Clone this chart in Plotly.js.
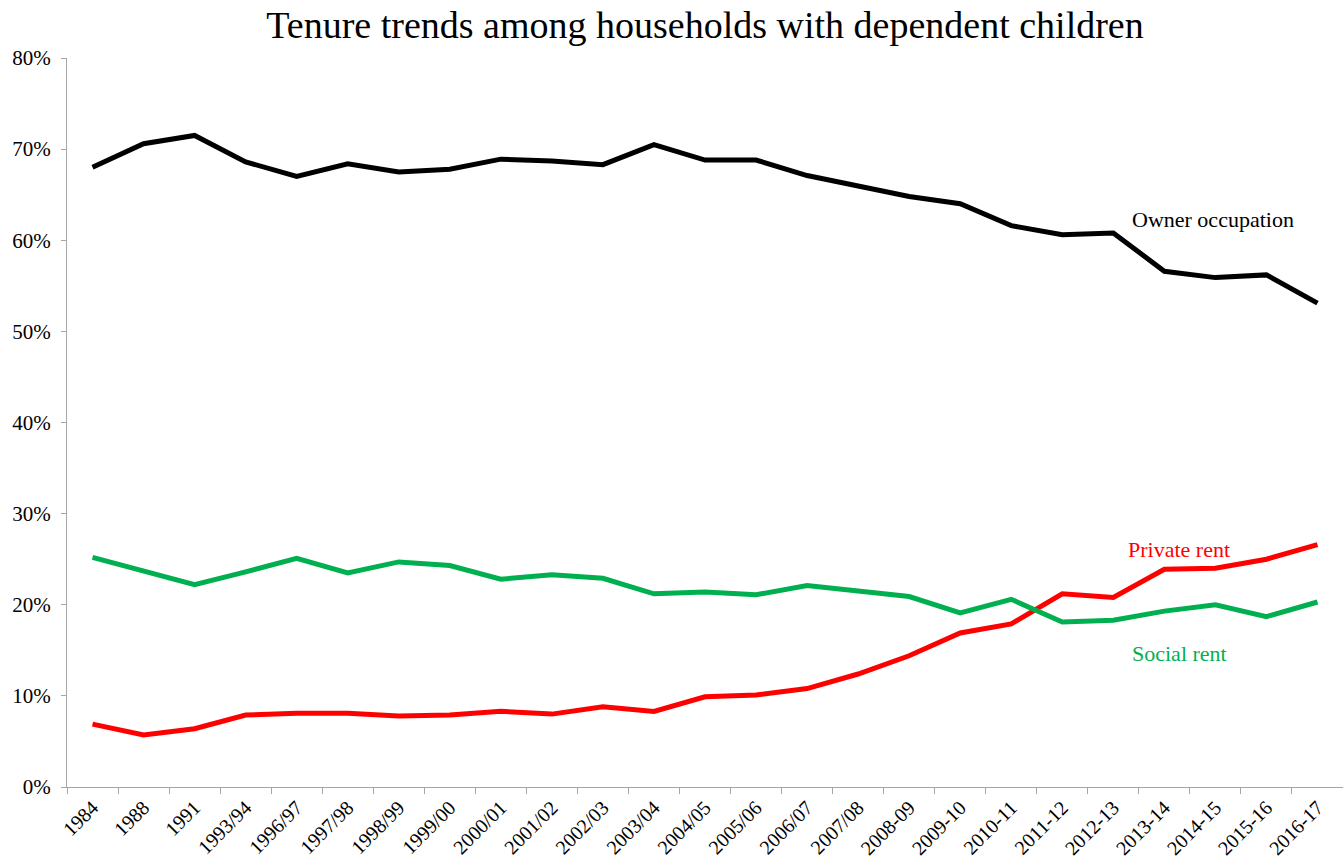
<!DOCTYPE html>
<html>
<head>
<meta charset="utf-8">
<script src="https://cdn.plot.ly/plotly-3.0.1.min.js"></script>
<style>html,body{margin:0;padding:0;background:#fff;}#chart{width:1343px;height:868px;}</style>
</head>
<body>
<div id="chart"></div>
<script>
const years = ["1984","1988","1991","1993/94","1996/97","1997/98","1998/99","1999/00","2000/01","2001/02","2002/03","2003/04","2004/05","2005/06","2006/07","2007/08","2008-09","2009-10","2010-11","2011-12","2012-13","2013-14","2014-15","2015-16","2016-17"];
const ownerOccupation = [68.0,70.6,71.5,68.6,67.0,68.4,67.5,67.8,68.9,68.7,68.3,70.5,68.8,68.8,67.1,66.0,64.8,64.0,61.6,60.6,60.8,56.6,55.9,56.2,53.1];
const privateRent = [6.9,5.7,6.4,7.9,8.1,8.1,7.8,7.9,8.3,8.0,8.8,8.3,9.9,10.1,10.8,12.4,14.4,16.9,17.9,21.2,20.8,23.9,24.0,25.0,26.6];
const socialRent = [25.2,23.7,22.2,23.6,25.1,23.5,24.7,24.3,22.8,23.3,22.9,21.2,21.4,21.1,22.1,21.5,20.9,19.1,20.6,18.1,18.3,19.3,20.0,18.7,20.3];
const labels = ["Owner occupation","Private rent","Social rent"];

const serif = '"Liberation Serif", "DejaVu Serif", serif';
function tr(y, color, name) {
  return {x: years, y: y.map(v => v/100), type: 'scatter', mode: 'lines', name: name,
    line: {color: color, width: 5}, hoverinfo: 'x+y'};
}
const data = [
  tr(ownerOccupation, '#000000', labels[0]),
  tr(privateRent, '#FF0000', labels[1]),
  tr(socialRent, '#00B050', labels[2])
];
const layout = {
  width: 1343, height: 868,
  margin: {l: 67, r: 0, t: 58, b: 81},
  paper_bgcolor: '#fff', plot_bgcolor: '#fff',
  showlegend: false,
  title: {text: 'Tenure trends among households with dependent children', x: 0.5, xref: 'paper', y: 0.971, yanchor: 'middle',
    font: {family: serif, size: 38, color: '#000'}},
  xaxis: {type: 'category', tickson: 'boundaries', ticks: 'outside', ticklen: 6, tickcolor: '#a6a6a6',
    showline: true, linecolor: '#a6a6a6', linewidth: 1, showgrid: false, zeroline: false,
    tickangle: -45, tickfont: {family: serif, size: 20, color: '#000'}, range: [-0.5, 24.5]},
  yaxis: {range: [0, 0.8], dtick: 0.1, tickformat: '.0%', ticks: 'outside', ticklen: 5, tickcolor: '#a6a6a6',
    showline: true, linecolor: '#a6a6a6', linewidth: 1, showgrid: false, zeroline: false,
    ticklabelstandoff: 6,
    tickfont: {family: serif, size: 21, color: '#000'}},
  annotations: [
    {text: labels[0], x: 20.33, y: 0.623, xref: 'x', yref: 'y', showarrow: false, xanchor: 'left', yanchor: 'middle',
      font: {family: serif, size: 22, color: '#000'}},
    {text: labels[1], x: 20.25, y: 0.261, xref: 'x', yref: 'y', showarrow: false, xanchor: 'left', yanchor: 'middle',
      font: {family: serif, size: 22, color: '#FF0000'}},
    {text: labels[2], x: 20.33, y: 0.146, xref: 'x', yref: 'y', showarrow: false, xanchor: 'left', yanchor: 'middle',
      font: {family: serif, size: 22, color: '#00B050'}}
  ]
};
Plotly.newPlot('chart', data, layout, {displayModeBar: false, staticPlot: true});
</script>
</body>
</html>
